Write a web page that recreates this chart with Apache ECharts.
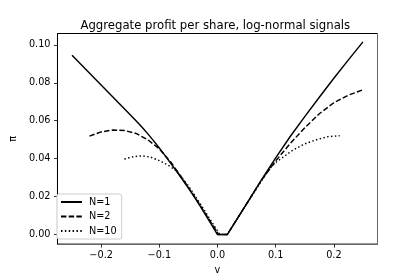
<!DOCTYPE html>
<html>
<head>
<meta charset="utf-8">
<script src="https://cdn.jsdelivr.net/npm/echarts@6/dist/echarts.min.js"></script>
<style>
html,body{margin:0;padding:0;background:#fff;}
#c{width:420px;height:280px;}
</style>
</head>
<body>
<div id="c"></div>
<script>
const titleText = 'Aggregate profit per share, log-normal signals';
const xName = 'v';
const yName = 'π';
const seriesNames = ['N=1', 'N=2', 'N=10'];
const xTicks = [-0.2, -0.1, 0.0, 0.1, 0.2];
const yTicks = [0.00, 0.02, 0.04, 0.06, 0.08, 0.10];

const vN1 = [-0.25,-0.2,-0.15,-0.14,-0.13,-0.12,-0.11,-0.1,-0.09,-0.08,-0.07,-0.06,-0.05,-0.04,-0.03,-0.02,-0.01,0,0.0168,0.05,0.075,0.1,0.125,0.15,0.175,0.2,0.225,0.25];
const piN1 = [0.0945,0.0788,0.0632,0.0600,0.0567,0.0532,0.0495,0.0456,0.0416,0.0374,0.0332,0.0289,0.0245,0.0199,0.0151,0.0101,0.0051,0,0,0.0162,0.0285,0.0404,0.0517,0.0622,0.0724,0.0824,0.0921,0.1016];

const vN2 = [-0.22,-0.2,-0.18,-0.16,-0.14,-0.12,-0.1,-0.08,-0.06,-0.04,-0.02,0.002,0.0168,0.05,0.075,0.1,0.125,0.15,0.175,0.2,0.225,0.25];
const piN2 = [0.0519,0.0541,0.0551,0.0549,0.0533,0.0500,0.0452,0.0381,0.0294,0.0203,0.0106,0,0,0.0162,0.0284,0.0388,0.0480,0.0563,0.0637,0.0695,0.0735,0.0763];

const vN10 = [-0.16,-0.145,-0.13,-0.115,-0.1,-0.085,-0.07,-0.05,-0.03,-0.015,0.004,0.0168,0.05,0.075,0.09,0.1,0.115,0.13,0.15,0.17,0.19,0.21];
const piN10 = [0.0398,0.0410,0.0415,0.0408,0.0390,0.0366,0.0335,0.0256,0.0164,0.0091,0,0,0.0160,0.0280,0.0348,0.0380,0.0413,0.0446,0.0478,0.0500,0.0516,0.0521];

const FONT = 'DejaVu Sans';
const pairs = (xs, ys) => xs.map((x, i) => [x, ys[i]]);
const fmtX = v => v.toFixed(1).replace('-', '\u2212');
const fmtY = v => v.toFixed(2).replace('-', '\u2212');

const chart = echarts.init(document.getElementById('c'), null, {renderer: 'canvas'});
const lw = 1.46;
const mk = (name, data, type) => ({
  name: name,
  type: 'line',
  data: data,
  symbol: 'none',
  showSymbol: false,
  smooth: false,
  silent: true,
  lineStyle: {color: '#000', width: lw, type: type, cap: 'butt', join: 'round'},
  itemStyle: {color: '#000'},
  emphasis: {disabled: true}
});

chart.setOption({
  animation: false,
  backgroundColor: '#fff',
  title: {
    text: titleText,
    left: 215.3,
    top: 19.5,
    textAlign: 'center',
    padding: 0,
    textStyle: {fontFamily: FONT, fontSize: 11.7, fontWeight: 'normal', color: '#000'}
  },
  grid: {
    left: 53, right: 42.5, top: 33.5, bottom: 35.5,
    show: true, borderColor: '#000', borderWidth: 1, backgroundColor: 'transparent'
  },
  legend: {
    orient: 'vertical',
    left: 57, top: 194,
    padding: [3, 5, 3, 3],
    itemWidth: 21, itemHeight: 10, itemGap: 4.5,
    backgroundColor: '#fff',
    borderColor: '#ccc', borderWidth: 1, borderRadius: 2,
    itemStyle: {color: 'transparent', borderWidth: 0, opacity: 0},
    textStyle: {fontFamily: FONT, fontSize: 9.7, color: '#000', lineHeight: 10, padding: [0,0,0,2]},
    data: seriesNames
  },
  xAxis: [{
    type: 'value',
    min: -0.275, max: 0.275,
    name: xName, nameLocation: 'middle', nameGap: 14,
    nameTextStyle: {fontFamily: FONT, fontSize: 9.7, color: '#000'},
    axisLine: {show: true, onZero: false, lineStyle: {color: '#666', width: 1}},
    axisTick: {show: true, inside: false, length: 3.5, lineStyle: {color: '#000', width: 0.8}, customValues: xTicks},
    axisLabel: {show: true, margin: 6, fontFamily: FONT, fontSize: 9.7, color: '#000', customValues: xTicks, formatter: fmtX},
    splitLine: {show: false}
  }],
  yAxis: [{
    type: 'value',
    min: -0.00505, max: 0.106,
    name: yName, nameLocation: 'middle', nameGap: 31, nameRotate: 90,
    nameTextStyle: {fontFamily: FONT, fontSize: 9.7, color: '#000'},
    axisLine: {show: true, onZero: false, lineStyle: {color: '#000', width: 1}},
    axisTick: {show: true, inside: false, length: 3.5, lineStyle: {color: '#000', width: 0.8}, customValues: yTicks},
    axisLabel: {show: true, margin: 7, fontFamily: FONT, fontSize: 9.7, color: '#000', customValues: yTicks, formatter: fmtY},
    splitLine: {show: false}
  }, {
    type: 'value', position: 'right',
    min: -0.00505, max: 0.106,
    axisLine: {show: true, onZero: false, lineStyle: {color: '#666', width: 1}},
    axisTick: {show: false}, axisLabel: {show: false}, splitLine: {show: false}
  }],
  series: [
    mk(seriesNames[0], pairs(vN1, piN1), 'solid'),
    mk(seriesNames[1], pairs(vN2, piN2), [5.4, 2.3]),
    mk(seriesNames[2], pairs(vN10, piN10), [1.46, 2.4])
  ]
});
</script>
</body>
</html>
